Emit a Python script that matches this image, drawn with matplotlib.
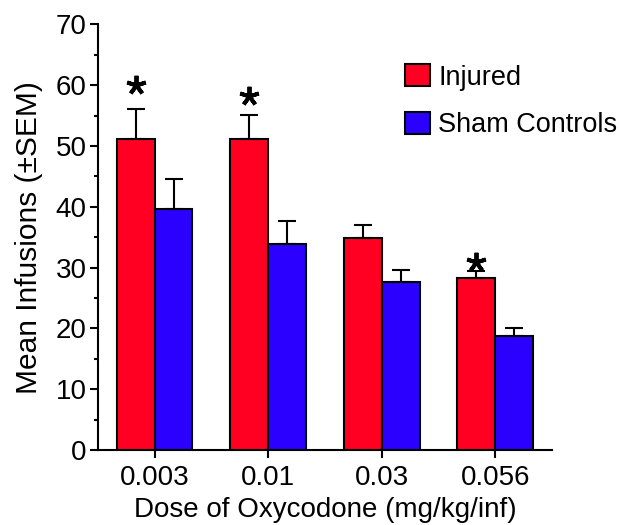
import numpy as np
import matplotlib
matplotlib.use("Agg")
import matplotlib.pyplot as plt
from matplotlib.ticker import MultipleLocator

plt.rcParams['font.family'] = ['Liberation Sans', 'DejaVu Sans']

# data
doses = ['0.003', '0.01', '0.03', '0.056']
injured = [51.2, 51.2, 34.9, 28.2]
injured_sem = [4.9, 3.9, 2.1, 1.2]
sham = [39.7, 33.8, 27.6, 18.8]
sham_sem = [4.9, 3.9, 2.0, 1.2]
# asterisks (significant vs sham) : which dose, height
star_idx = [0, 1, 3]
star_y = [60.0, 58.2, 30.9]

red = '#ff0022'
blue = '#2b00ff'

fig = plt.figure(figsize=(6.19, 5.25), dpi=100)
ax = fig.add_axes([0.158, 0.1429, 0.734, 0.8108])

x = np.arange(len(doses))
w = 1/3.
err_kw = dict(ecolor='black', elinewidth=1.5, capsize=6.7, capthick=1.5)
zeros = np.zeros(len(doses))
ax.bar(x - w/2, injured, w, color=red, edgecolor='black', linewidth=1.5,
       yerr=[zeros, injured_sem], error_kw=err_kw, label='Injured', zorder=2)
ax.bar(x + w/2, sham, w, color=blue, edgecolor='black', linewidth=1.5,
       yerr=[zeros, sham_sem], error_kw=err_kw, label='Sham Controls', zorder=2)

# asterisks
ax.plot(x[star_idx] - w/2, star_y, linestyle='none', marker=(5, 2, 0),
        markersize=14, markeredgewidth=2.8, color='black', zorder=3)

ax.set_xlim(-0.5, 3.5)
ax.set_ylim(0, 70)
ax.set_xticks(x)
ax.set_xticklabels(doses)
ax.yaxis.set_major_locator(MultipleLocator(10))
ax.yaxis.set_minor_locator(MultipleLocator(5))

for s in ['top', 'right']:
    ax.spines[s].set_visible(False)
for s in ['left', 'bottom']:
    ax.spines[s].set_linewidth(1.5)

ax.tick_params(axis='both', which='major', labelsize=20, width=1.5, length=6)
ax.tick_params(axis='y', which='major', pad=2)
ax.tick_params(axis='x', which='major', pad=5)
ax.tick_params(axis='y', which='minor', width=1.5, length=3)

ax.set_ylabel('Mean Infusions (\u00b1SEM)', fontsize=21.5, labelpad=9)
ax.set_xlabel('Dose of Oxycodone (mg/kg/inf)', fontsize=20, labelpad=4)

leg = ax.legend(loc='upper left', bbox_to_anchor=(405/619, 1 - 64/525),
                bbox_transform=fig.transFigure, frameon=False, fontsize=19.5,
                handlelength=0.93, handleheight=0.9, handletextpad=0.3,
                labelspacing=0.78, borderpad=0, borderaxespad=0)

fig.savefig('out.png', dpi=100)
